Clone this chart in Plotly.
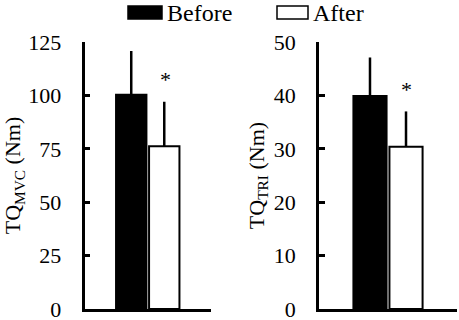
import plotly.graph_objects as go

# ---- data ----
series = ["Before", "After"]
panels = ["MVC", "TRI"]
means_mvc = [100.3, 76.2]
sd_mvc = [20.5, 20.8]
means_tri = [39.9, 30.4]
sd_tri = [7.2, 6.6]
sig_after = [True, True]   # asterisk on "After" bar
ytick_mvc = [0, 25, 50, 75, 100, 125]
ytick_tri = [0, 10, 20, 30, 40, 50]
ytitles = ["TQ<sub>MVC</sub> (Nm)", "TQ<sub>TRI</sub> (Nm)"]

W, H = 459, 320
FONT = "Liberation Serif"
fills = ["black", "white"]

fig = go.Figure()
for p, (cat, means, sds) in enumerate([(panels[0], means_mvc, sd_mvc), (panels[1], means_tri, sd_tri)]):
    xa = "x" if p == 0 else "x2"
    ya = "y" if p == 0 else "y2"
    for i, name in enumerate(series):
        fig.add_trace(go.Bar(
            x=[cat], y=[means[i]], name=name, showlegend=False,
            xaxis=xa, yaxis=ya,
            marker=dict(color=fills[i], line=dict(color="black", width=2)),
            error_y=dict(type="data", array=[sds[i]], arrayminus=[0], symmetric=False,
                         width=0, thickness=2.5, color="black"),
        ))
        if i == 1 and sig_after[p]:
            fig.add_annotation(x=cat, y=means[i] + sds[i], xref=xa, yref=ya,
                               text="*", showarrow=False, xshift=18, yshift=22,
                               font=dict(family=FONT, size=22, color="black"),
                               yanchor="middle")

ydom = [1 - 309 / H, 1 - 42 / H]
axis_common = dict(showline=True, linecolor="black", linewidth=2.5, showgrid=False,
                   zeroline=False)
fig.update_layout(
    width=W, height=H, margin=dict(l=0, r=0, t=0, b=0),
    paper_bgcolor="white", plot_bgcolor="white",
    barmode="group", bargap=0.478, bargroupgap=0.08,
    font=dict(family=FONT, size=22, color="black"),
    xaxis=dict(domain=[84.5 / W, 211 / W], showticklabels=False, ticks="", **axis_common),
    xaxis2=dict(domain=[319 / W, 457 / W], anchor="y2", showticklabels=False, ticks="", **axis_common),
    yaxis=dict(domain=ydom, range=[0, 125], tickvals=ytick_mvc, ticks="inside", ticklen=6,
               tickwidth=2.5, tickcolor="black", ticklabelstandoff=16, ticklabeloverflow="allow",
               title=dict(text=ytitles[0], standoff=4, font=dict(size=22)),
               automargin=False, **axis_common),
    yaxis2=dict(domain=ydom, range=[0, 50], tickvals=ytick_tri, ticks="inside", ticklen=6,
                tickwidth=2.5, tickcolor="black", ticklabelstandoff=16, anchor="x2",
                ticklabeloverflow="allow",
                title=dict(text=ytitles[1], standoff=4, font=dict(size=22)),
                automargin=False, **axis_common),
)

# legend drawn as shapes + text
leg_boxes = [(128, 162), (277, 308)]
leg_text_x = [165, 311]
for i, name in enumerate(series):
    x0, x1 = leg_boxes[i]
    fig.add_shape(type="rect", xref="paper", yref="paper",
                  x0=x0 / W, x1=x1 / W, y0=1 - 19 / H, y1=1 - 6 / H,
                  fillcolor=fills[i], line=dict(color="black", width=1.5))
    fig.add_annotation(x=leg_text_x[i] / W, y=1 - 13 / H, xref="paper", yref="paper",
                       text=name, showarrow=False, xanchor="left", yanchor="middle",
                       font=dict(family=FONT, size=24, color="black"))

fig.write_html("out.html", config={"displayModeBar": False},
               post_script="document.body.style.margin='0';document.body.style.overflow='hidden';")
